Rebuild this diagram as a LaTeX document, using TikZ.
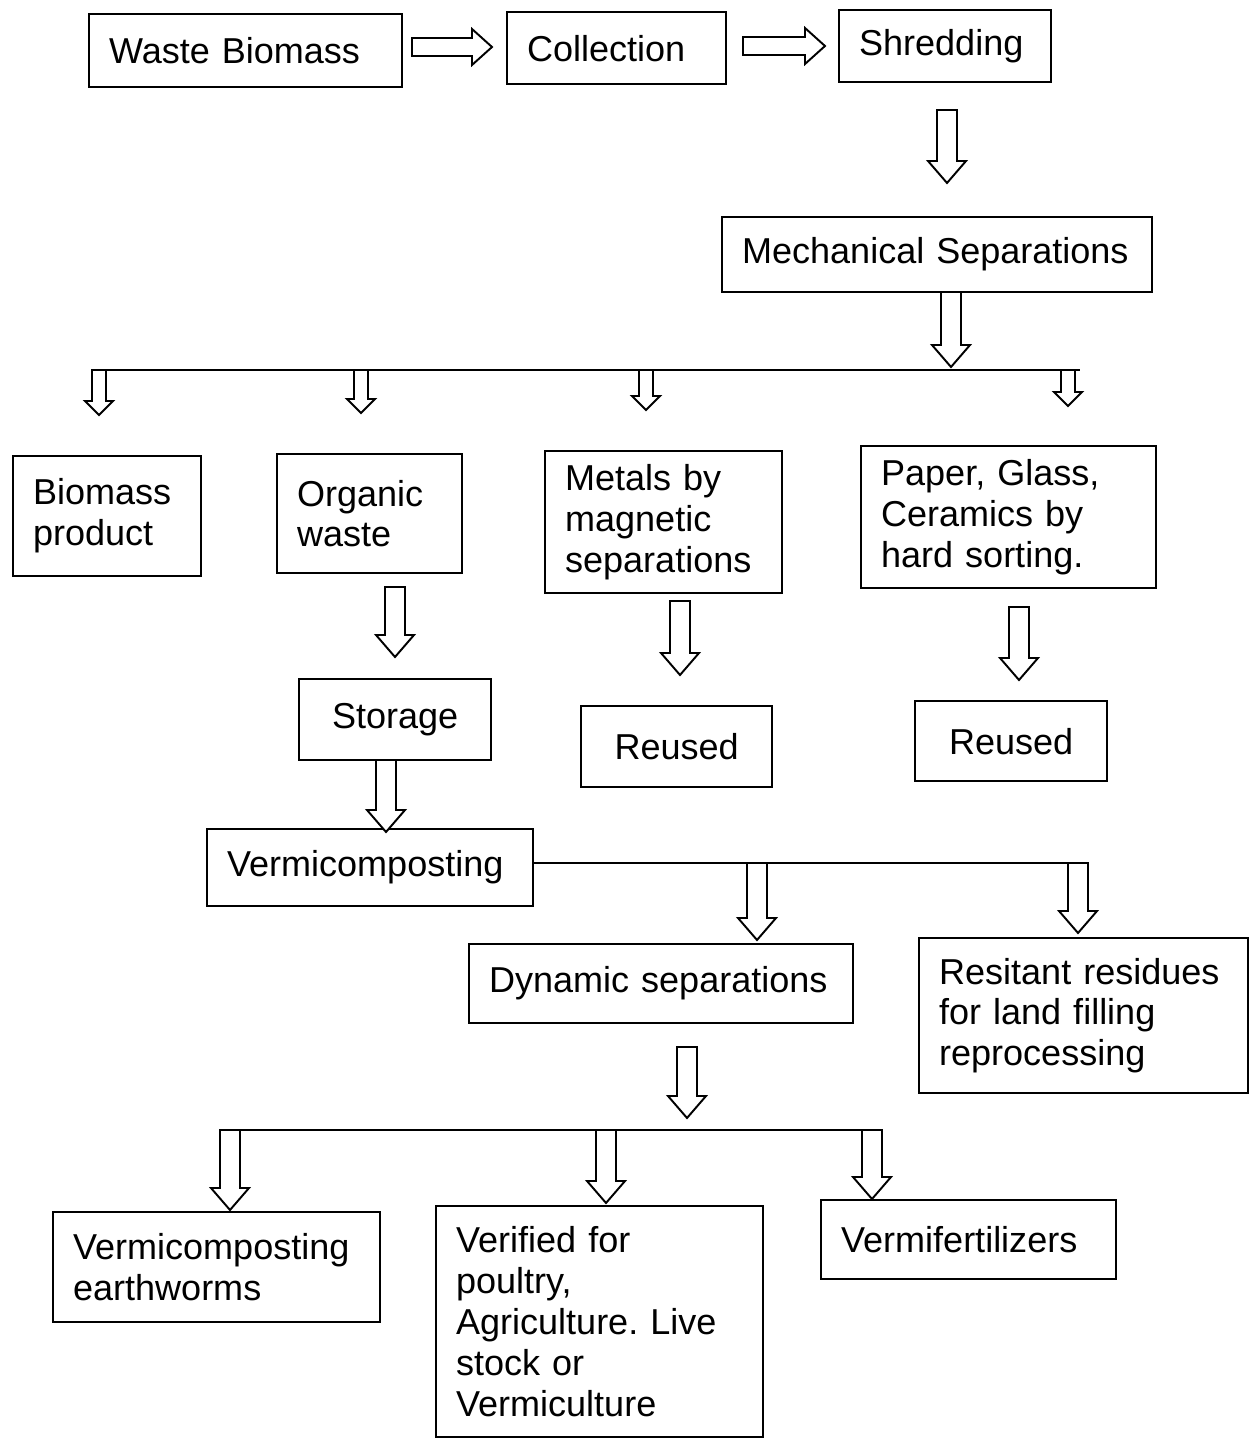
\documentclass[tikz,border=0pt]{standalone}
\usepackage{fontspec}
\setmainfont{Liberation Sans}
\frenchspacing
\tikzstyle{block} = [rectangle, draw=black, line width=1.3pt, anchor=north west, align=left, inner xsep=0.4cm, inner ysep=0pt, font=\fontsize{20.5}{23.3}\selectfont]
\tikzstyle{cblock} = [block, align=center]
\tikzstyle{trunk} = [line width=1.3pt]
\tikzset{
  hdown/.style n args={3}{draw=black, line width=1.1pt, fill=white, line join=miter,
    to path={([xshift=-#1]\tikztostart) -- ([xshift=-#1,yshift=#3]\tikztotarget)
      -- ([xshift=-#2,yshift=#3]\tikztotarget) -- (\tikztotarget)
      -- ([xshift=#2,yshift=#3]\tikztotarget) -- ([xshift=#1,yshift=#3]\tikztotarget)
      -- ([xshift=#1]\tikztostart) -- cycle}},
  hright/.style n args={3}{draw=black, line width=1.1pt, fill=white, line join=miter,
    to path={([yshift=#1]\tikztostart) -- ([yshift=#1,xshift=-#3]\tikztotarget)
      -- ([yshift=#2,xshift=-#3]\tikztotarget) -- (\tikztotarget)
      -- ([yshift=-#2,xshift=-#3]\tikztotarget) -- ([yshift=-#1,xshift=-#3]\tikztotarget)
      -- ([yshift=-#1]\tikztostart) -- cycle}},
  bigdown/.style={hdown={0.2cm}{0.38cm}{0.44cm}},
  smalldown/.style={hdown={0.14cm}{0.28cm}{0.28cm}},
  bigright/.style={hright={0.18cm}{0.36cm}{0.4cm}}
}

\begin{document}
\begin{tikzpicture}[x=0.02cm, y=-0.02cm]
\useasboundingbox (0,0) rectangle (1251,1439);

% boxes
\node (waste) [block, text width=5.46cm, minimum height=1.46cm] at (88,13) {Waste Biomass};
\node (coll) [block, text width=3.58cm, minimum height=1.44cm] at (506,11) {Collection};
\node (shred) [block, text width=3.44cm, minimum height=1.44cm] at (838,9) {Shredding};
\node (mech) [block, text width=7.8cm, minimum height=1.5cm] at (721,216) {Mechanical Separations};
\node (biom) [block, text width=2.96cm, minimum height=2.4cm] at (12,455) {Biomass\\product};
\node (organic) [block, text width=2.9cm, minimum height=2.38cm] at (276,453) {Organic\\waste};
\node (metals) [block, text width=3.94cm, minimum height=2.84cm] at (544,450) {Metals by\\magnetic\\separations};
\node (paper) [block, text width=5.1cm, minimum height=2.84cm] at (860,445) {Paper, Glass,\\Ceramics by\\hard sorting.};
\node (storage) [cblock, text width=3.04cm, minimum height=1.62cm] at (298,678) {Storage};
\node (reuseda) [cblock, text width=3.02cm, minimum height=1.62cm] at (580,705) {Reused};
\node (reusedb) [cblock, text width=3.04cm, minimum height=1.6cm] at (914,700) {Reused};
\node (vermi) [block, text width=5.72cm, minimum height=1.54cm] at (206,828) {Vermicomposting};
\node (dynamic) [block, text width=6.88cm, minimum height=1.58cm] at (468,943) {Dynamic separations};
\node (resid) [block, text width=5.78cm, minimum height=3.1cm] at (918,937) {Resitant residues\\for land filling\\reprocessing};
\node (worms) [block, text width=5.74cm, minimum height=2.2cm] at (52,1211) {Vermicomposting\\earthworms};
\node (verified) [block, text width=5.74cm, minimum height=4.62cm] at (435,1205) {Verified for\\poultry,\\Agriculture. Live\\stock or\\Vermiculture};
\node (fert) [block, text width=5.1cm, minimum height=1.58cm] at (820,1199) {Vermifertilizers};

% arrow ends
\coordinate (r1s) at (412,47);   \coordinate (r1e) at (492,47);
\coordinate (r2s) at (743,46);   \coordinate (r2e) at (825,46);
\coordinate (d1s) at (947,110);  \coordinate (d1e) at (947,183);
\coordinate (d2s) at (951,292);  \coordinate (d2e) at (951,367);
\coordinate (d3s) at (395,587);  \coordinate (d3e) at (395,657);
\coordinate (d4s) at (680,601);  \coordinate (d4e) at (680,675);
\coordinate (d5s) at (1019,607); \coordinate (d5e) at (1019,680);
\coordinate (d6s) at (386,760);  \coordinate (d6e) at (386,832);
\coordinate (d7s) at (757,863);  \coordinate (d7e) at (757,940);
\coordinate (d8s) at (1078,863); \coordinate (d8e) at (1078,933);
\coordinate (d9s) at (687,1047); \coordinate (d9e) at (687,1118);
\coordinate (d10s) at (230,1130); \coordinate (d10e) at (230,1210);
\coordinate (d11s) at (606,1130); \coordinate (d11e) at (606,1203);
\coordinate (d12s) at (872,1130); \coordinate (d12e) at (872,1199);
\coordinate (s1s) at (99,370);   \coordinate (s1e) at (99,415);
\coordinate (s2s) at (361,370);  \coordinate (s2e) at (361,413);
\coordinate (s3s) at (646,370);  \coordinate (s3e) at (646,410);
\coordinate (s4s) at (1068,370); \coordinate (s4e) at (1068,406);

% branch lines
\coordinate (t1l) at (92,370);   \coordinate (t1r) at (1080,370);
\coordinate (t2r) at (1088,863);
\coordinate (t3l) at (220,1130); \coordinate (t3r) at (882,1130);
\draw [trunk] (t1l) -- (t1r);
\draw [trunk] (vermi.east |- t2r) -- (t2r);
\draw [trunk] (t3l) -- (t3r);

\draw [bigright] (r1s) to (r1e);
\draw [bigright] (r2s) to (r2e);
\draw [bigdown] (d1s) to (d1e);
\draw [bigdown] (d2s) to (d2e);
\draw [bigdown] (d3s) to (d3e);
\draw [bigdown] (d4s) to (d4e);
\draw [bigdown] (d5s) to (d5e);
\draw [bigdown] (d6s) to (d6e);
\draw [bigdown] (d7s) to (d7e);
\draw [bigdown] (d8s) to (d8e);
\draw [bigdown] (d9s) to (d9e);
\draw [bigdown] (d10s) to (d10e);
\draw [bigdown] (d11s) to (d11e);
\draw [bigdown] (d12s) to (d12e);
\draw [smalldown] (s1s) to (s1e);
\draw [smalldown] (s2s) to (s2e);
\draw [smalldown] (s3s) to (s3e);
\draw [smalldown] (s4s) to (s4e);

\end{tikzpicture}
\end{document}
